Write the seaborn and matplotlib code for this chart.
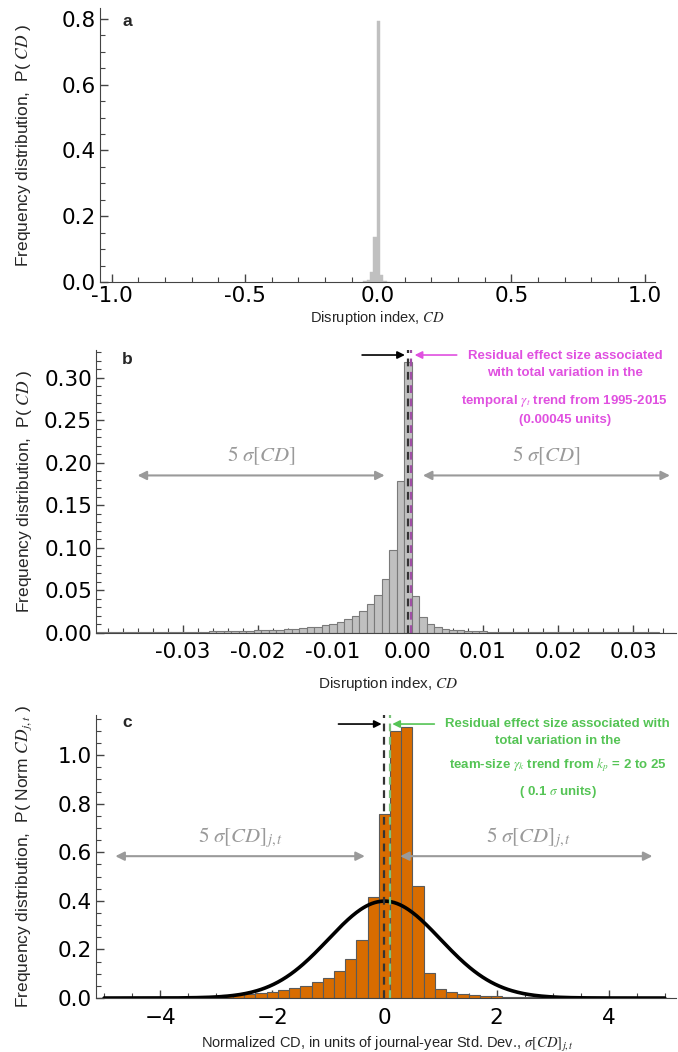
import numpy as np
import pandas as pd
import matplotlib
matplotlib.use('Agg')
import matplotlib.pyplot as plt
from matplotlib.ticker import MultipleLocator, FormatStrFormatter
import seaborn as sns

# =========================================
# Data
# panel a : disruption index, coarse bins (width 0.0125)
a_width = 0.0125
a_centers = [-0.05, -0.0375, -0.025, -0.0125, 0.0, 0.0125, 0.025, 0.0375]
a_heights = [0.002, 0.005, 0.031, 0.138, 0.792, 0.021, 0.004, 0.001]

# panel b : disruption index, fine bins (width 0.001)
b_width = 0.001
b_centers = np.round(np.arange(-0.041, 0.0355, 0.001), 3)
b_heights = [
    0.0005, 0.0005, 0.0005, 0.0006, 0.0006, 0.0007, 0.0007, 0.0008, 0.0008, 0.0009,   # -0.041 .. -0.032
    0.0009, 0.0010, 0.0011, 0.0012, 0.0013, 0.0014, 0.0015, 0.0017, 0.0019, 0.0021,   # -0.031 .. -0.022
    0.0023, 0.0026, 0.0029, 0.0032, 0.0036, 0.0041, 0.0047, 0.0054, 0.0062, 0.0072,   # -0.021 .. -0.012
    0.0087, 0.0105, 0.013, 0.016, 0.020, 0.026, 0.034, 0.044, 0.063, 0.097,            # -0.011 .. -0.002
    0.178, 0.318,                                                                      # -0.001, 0.000
    0.043, 0.018, 0.010, 0.0065, 0.0045, 0.0034, 0.0027, 0.0022, 0.0018, 0.0015,       # 0.001 .. 0.010
    0.0013, 0.0011, 0.0010, 0.0009, 0.0008, 0.0007, 0.0007, 0.0006, 0.0006, 0.0005,   # 0.011 .. 0.020
    0.0005, 0.0005, 0.0004, 0.0004, 0.0004, 0.0004, 0.0003, 0.0003, 0.0003, 0.0003,   # 0.021 .. 0.030
    0.0003, 0.0003, 0.0003, 0.0002, 0.0002,                                           # 0.031 .. 0.035
]

# panel c : normalized CD (width 0.2)
c_width = 0.2
c_centers = np.round(np.arange(-5.0, 5.01, 0.2), 1)
c_heights = [
    0.002, 0.002, 0.0025, 0.003, 0.0035, 0.004, 0.005, 0.006, 0.007, 0.008,   # -5.0 .. -3.2
    0.010, 0.012, 0.015, 0.018, 0.022, 0.026, 0.032, 0.040, 0.051, 0.065,     # -3.0 .. -1.2
    0.084, 0.113, 0.159, 0.239, 0.414,                                        # -1.0 .. -0.2
    0.759,                                                                    # 0.0
    1.099, 1.114, 0.462, 0.103, 0.039, 0.023, 0.016, 0.012, 0.009, 0.007,     # 0.2 .. 2.0
    0.005, 0.004, 0.003, 0.0025, 0.002, 0.0015, 0.0013, 0.0011, 0.001, 0.0009, # 2.2 .. 4.0
    0.0008, 0.0007, 0.0006, 0.0005, 0.0004,                                   # 4.2 .. 5.0
]

b_effect = 0.00045   # temporal trend residual effect
c_effect = 0.1       # team-size trend residual effect


def bin_edges(centers, width):
    # seaborn compares bins against "auto", so hand it a plain list
    c = np.asarray(centers, dtype=float)
    return list(np.append(c - width / 2, c[-1] + width / 2))


def hist_frame(centers, heights):
    return pd.DataFrame({'cd': np.asarray(centers, dtype=float),
                         'p': np.asarray(heights, dtype=float)})


# =========================================
sns.set_style('ticks')
plt.rcParams['font.family'] = ['Liberation Sans', 'DejaVu Sans']
plt.rcParams['mathtext.fontset'] = 'stix'
plt.rcParams['xtick.direction'] = 'in'
plt.rcParams['ytick.direction'] = 'in'
plt.rcParams['axes.edgecolor'] = '#444444'
plt.rcParams['xtick.color'] = '#444444'
plt.rcParams['ytick.color'] = '#444444'
plt.rcParams['xtick.labelcolor'] = 'black'
plt.rcParams['ytick.labelcolor'] = 'black'

fig = plt.figure(figsize=(6.78, 10.52), dpi=100)
ax_a = fig.add_axes([0.1475, 0.7319, 0.819, 0.2605])
ax_b = fig.add_axes([0.142, 0.3986, 0.855, 0.2687])
ax_c = fig.add_axes([0.142, 0.0513, 0.855, 0.2690])

GRAY_ARROW = '#9a9a9a'
MAGENTA = '#e050e0'
GREEN = '#55c455'


def style_axes(ax, xpad):
    sns.despine(ax=ax)
    ax.tick_params(which='major', length=6, width=1.0, labelsize=15.5, pad=3,
                   labelfontfamily='DejaVu Sans')
    ax.tick_params(axis='x', which='major', pad=xpad)
    ax.tick_params(which='minor', length=3.5, width=0.8)


# =========================================
# panel a
sns.histplot(data=hist_frame(a_centers, a_heights), x='cd', weights='p',
             bins=bin_edges(a_centers, a_width),
             ax=ax_a, color='#c0c0c0', edgecolor='#c0c0c0', linewidth=0.3, alpha=1)
ax_a.set_xlim(-1.044, 1.04)
ax_a.set_ylim(0, 0.833)
ax_a.xaxis.set_major_locator(MultipleLocator(0.5))
ax_a.xaxis.set_minor_locator(MultipleLocator(0.1))
ax_a.yaxis.set_major_locator(MultipleLocator(0.2))
ax_a.yaxis.set_minor_locator(MultipleLocator(0.05))
ax_a.xaxis.set_major_formatter(FormatStrFormatter('%.1f'))
ax_a.yaxis.set_major_formatter(FormatStrFormatter('%.1f'))
style_axes(ax_a, 3)
ax_a.set_ylabel(r'Frequency distribution,  P( $CD$ )', fontsize=12.5)
ax_a.set_xlabel(r'Disruption index, $CD$', fontsize=10.5)
ax_a.yaxis.set_label_coords(-0.121, 0.5)
ax_a.xaxis.set_label_coords(0.5, -0.1)
ax_a.text(0.05, 0.95, 'a', transform=ax_a.transAxes, fontsize=12.5,
          fontweight='bold', ha='center', va='center')

# =========================================
# panel b
sns.histplot(data=hist_frame(b_centers, b_heights), x='cd', weights='p',
             bins=bin_edges(b_centers, b_width),
             ax=ax_b, color='#c0c0c0', edgecolor='#7a7a7a', linewidth=0.8, alpha=1)
ax_b.axvline(0, color='#333333', lw=1.6, ls=(0, (3.5, 2.5)))
ax_b.axvline(b_effect, color='#a04ea6', lw=1.6, ls=(0, (3.5, 2.5)))
ax_b.set_xlim(-0.0415, 0.0357)
ax_b.set_ylim(0, 0.3326)
ax_b.set_xticks([-0.03, -0.02, -0.01, 0.0, 0.01, 0.02, 0.03])
ax_b.xaxis.set_minor_locator(MultipleLocator(0.002))
ax_b.yaxis.set_major_locator(MultipleLocator(0.05))
ax_b.yaxis.set_minor_locator(MultipleLocator(0.01))
ax_b.xaxis.set_major_formatter(FormatStrFormatter('%.2f'))
ax_b.yaxis.set_major_formatter(FormatStrFormatter('%.2f'))
style_axes(ax_b, 7)
ax_b.set_ylabel(r'Frequency distribution,  P( $CD$ )', fontsize=12.5)
ax_b.set_xlabel(r'Disruption index, $CD$', fontsize=11)
ax_b.yaxis.set_label_coords(-0.108, 0.5)
ax_b.xaxis.set_label_coords(0.503, -0.15)
ax_b.text(0.054, 0.965, 'b', transform=ax_b.transAxes, fontsize=12.5,
          fontweight='bold', ha='center', va='center')

# 5 sigma arrows
arrow_kw = dict(arrowstyle='<|-|>', color=GRAY_ARROW, lw=1.5,
                mutation_scale=13, shrinkA=0, shrinkB=0)
ax_b.annotate('', xy=(-0.0031, 0.185), xytext=(-0.036, 0.185), arrowprops=arrow_kw)
ax_b.annotate('', xy=(0.0349, 0.185), xytext=(0.002, 0.185), arrowprops=arrow_kw)
ax_b.text(-0.0195, 0.208, r'$5\ \sigma[CD]$', color=GRAY_ARROW, fontsize=15,
          ha='center', va='center')
ax_b.text(0.0184, 0.208, r'$5\ \sigma[CD]$', color=GRAY_ARROW, fontsize=15,
          ha='center', va='center')

# residual effect annotation
ax_b.annotate('', xy=(-0.0004, 0.3267), xytext=(-0.0061, 0.3267),
              arrowprops=dict(arrowstyle='-|>', color='black', lw=1.2,
                              mutation_scale=11, shrinkA=0, shrinkB=0))
ax_b.annotate('', xy=(0.0009, 0.3267), xytext=(0.0065, 0.3267),
              arrowprops=dict(arrowstyle='-|>', color=MAGENTA, lw=1.2,
                              mutation_scale=11, shrinkA=0, shrinkB=0))
b_text = ['Residual effect size associated', 'with total variation in the',
          r'temporal $\gamma_t$ trend from 1995-2015', '(0.00045 units)']
b_text_y = [0.3255, 0.3055, 0.2726, 0.2502]
for line, yy in zip(b_text, b_text_y):
    ax_b.text(0.0209, yy, line, color=MAGENTA, fontsize=9.5, fontweight='bold',
              ha='center', va='center')

# =========================================
# panel c
sns.histplot(data=hist_frame(c_centers, c_heights), x='cd', weights='p',
             bins=bin_edges(c_centers, c_width),
             ax=ax_c, color='#d86c00', edgecolor='#5a5a5a', linewidth=0.8, alpha=1)
norm_x = np.linspace(-5, 5, 401)
norm_df = pd.DataFrame({'x': norm_x, 'pdf': np.exp(-norm_x ** 2 / 2) / np.sqrt(2 * np.pi)})
sns.lineplot(data=norm_df, x='x', y='pdf', ax=ax_c, color='black', lw=2.6)
ax_c.axvline(0, color='#333333', lw=1.6, ls=(0, (3.5, 2.5)))
ax_c.axvline(c_effect, color='#7cc47c', lw=1.6, ls=(0, (3.5, 2.5)))
ax_c.set_xlim(-5.14, 5.2)
ax_c.set_ylim(0, 1.165)
ax_c.set_xticks([-4, -2, 0, 2, 4])
ax_c.xaxis.set_minor_locator(MultipleLocator(0.5))
ax_c.yaxis.set_major_locator(MultipleLocator(0.2))
ax_c.yaxis.set_minor_locator(MultipleLocator(0.05))
ax_c.yaxis.set_major_formatter(FormatStrFormatter('%.1f'))
style_axes(ax_c, 7)
ax_c.set_ylabel(r'Frequency distribution,  P( Norm $CD_{j,t}$ )', fontsize=12.5)
ax_c.set_xlabel(r'Normalized CD, in units of journal-year Std. Dev., $\sigma[CD]_{j,t}$',
                fontsize=10.5)
ax_c.yaxis.set_label_coords(-0.108, 0.5)
ax_c.xaxis.set_label_coords(0.503, -0.13)
ax_c.text(0.054, 0.975, 'c', transform=ax_c.transAxes, fontsize=12.5,
          fontweight='bold', ha='center', va='center')

ax_c.annotate('', xy=(-0.35, 0.584), xytext=(-4.8, 0.584), arrowprops=arrow_kw)
ax_c.annotate('', xy=(4.78, 0.584), xytext=(0.28, 0.584), arrowprops=arrow_kw)
ax_c.text(-2.57, 0.66, r'$5\ \sigma[CD]_{j,t}$', color=GRAY_ARROW, fontsize=15,
          ha='center', va='center')
ax_c.text(2.57, 0.66, r'$5\ \sigma[CD]_{j,t}$', color=GRAY_ARROW, fontsize=15,
          ha='center', va='center')

ax_c.annotate('', xy=(-0.05, 1.128), xytext=(-0.82, 1.128),
              arrowprops=dict(arrowstyle='-|>', color='black', lw=1.2,
                              mutation_scale=11, shrinkA=0, shrinkB=0))
ax_c.annotate('', xy=(0.14, 1.128), xytext=(0.89, 1.128),
              arrowprops=dict(arrowstyle='-|>', color=GREEN, lw=1.2,
                              mutation_scale=11, shrinkA=0, shrinkB=0))
c_text = ['Residual effect size associated with', 'total variation in the',
          r'team-size $\gamma_k$ trend from $k_p$ = 2 to 25', r'( 0.1 $\sigma$ units)']
c_text_y = [1.128, 1.058, 0.959, 0.848]
for line, yy in zip(c_text, c_text_y):
    ax_c.text(3.09, yy, line, color=GREEN, fontsize=9.5, fontweight='bold',
              ha='center', va='center')

fig.savefig('out.png', dpi=100)
